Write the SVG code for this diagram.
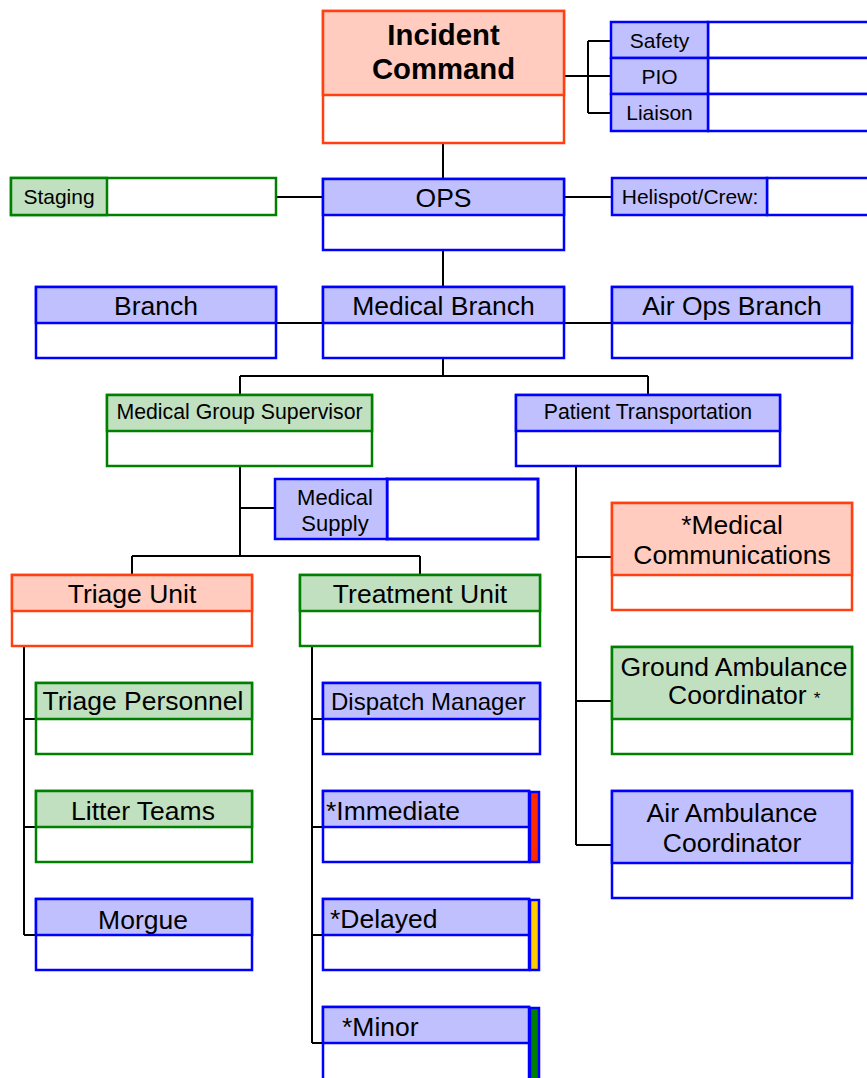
<svg xmlns="http://www.w3.org/2000/svg" width="867" height="1078" viewBox="0 0 867 1078">
<style>
text{font-family:"Liberation Sans",Arial,sans-serif;fill:#000}
.c{text-anchor:middle}
.b{font-weight:bold}
.rh{fill:#FFCCBF;stroke:#FF4010;stroke-width:2.5}
.rw{fill:#fff;stroke:#FF4010;stroke-width:2.5}
.bh{fill:#C0C0FF;stroke:#0000FF;stroke-width:2.5}
.bw{fill:#fff;stroke:#0000FF;stroke-width:2.5}
.gh{fill:#C0E0C0;stroke:#008000;stroke-width:2.5}
.gw{fill:#fff;stroke:#008000;stroke-width:2.5}
.f26{font-size:26.5px}
.f24{font-size:24px}
.f21{font-size:21px}
#connectors path{fill:none;stroke:#000;stroke-width:2}
</style>
<rect width="867" height="1078" fill="#fff"/>
<g id="connectors">
<path d="M564,76H588M588,41V113M588,41H611M588,76H611M588,113H611"/>
<path d="M443,143V179"/>
<path d="M276,197H323M564,197H612"/>
<path d="M443,250V287"/>
<path d="M276,323H323M564,323H612"/>
<path d="M443,358V376M240,376H648M240,376V395M648,376V395"/>
<path d="M240,466V556M240,508H275M132,556H420M132,556V575M420,556V575"/>
<path d="M24,646V935M24,719H36M24,827H36M24,935H36"/>
<path d="M312,646V1043M312,719H323M312,827H323M312,935H323M312,1043H323"/>
<path d="M576,466V845M576,557H612M576,701H612M576,845H612"/>
</g>
<g id="incident-command">
<rect class="rw" x="323" y="11" width="241" height="132"/>
<rect class="rh" x="323" y="11" width="241" height="84"/>
<text class="c b" x="443.5" y="45" font-size="29.3">Incident</text>
<text class="c b" x="443.5" y="79" font-size="29.3">Command</text>
</g>
<g id="safety">
<rect class="bw" x="708" y="22" width="170" height="36"/>
<rect class="bh" x="611" y="22" width="97" height="36"/>
<text class="c f21" x="659.5" y="48">Safety</text>
</g>
<g id="pio">
<rect class="bw" x="708" y="58" width="170" height="36"/>
<rect class="bh" x="611" y="58" width="97" height="36"/>
<text class="c f21" x="659.5" y="84">PIO</text>
</g>
<g id="liaison">
<rect class="bw" x="708" y="94" width="170" height="37"/>
<rect class="bh" x="611" y="94" width="97" height="37"/>
<text class="c f21" x="659.5" y="120">Liaison</text>
</g>
<g id="staging">
<rect class="gw" x="11" y="178" width="265" height="37"/>
<rect class="gh" x="11" y="178" width="96" height="37"/>
<text class="c f21" x="59" y="204">Staging</text>
</g>
<g id="ops">
<rect class="bw" x="323" y="179" width="241" height="71"/>
<rect class="bh" x="323" y="179" width="241" height="36"/>
<text class="c f26" x="443.5" y="207">OPS</text>
</g>
<g id="helispot">
<rect class="bw" x="767" y="178" width="110" height="37"/>
<rect class="bh" x="612" y="178" width="155" height="37"/>
<text class="c f21" x="690" y="204">Helispot/Crew:</text>
</g>
<g id="branch">
<rect class="bw" x="36" y="287" width="240" height="71"/>
<rect class="bh" x="36" y="287" width="240" height="36"/>
<text class="c f26" x="156" y="315">Branch</text>
</g>
<g id="medical-branch">
<rect class="bw" x="323" y="287" width="241" height="71"/>
<rect class="bh" x="323" y="287" width="241" height="36"/>
<text class="c f26" x="443.5" y="315">Medical Branch</text>
</g>
<g id="air-ops-branch">
<rect class="bw" x="612" y="287" width="240" height="71"/>
<rect class="bh" x="612" y="287" width="240" height="36"/>
<text class="c f26" x="732" y="315">Air Ops Branch</text>
</g>
<g id="medical-group-supervisor">
<rect class="gw" x="107" y="395" width="265" height="71"/>
<rect class="gh" x="107" y="395" width="265" height="36"/>
<text class="c" x="239.5" y="419" font-size="21.3">Medical Group Supervisor</text>
</g>
<g id="patient-transportation">
<rect class="bw" x="516" y="395" width="264" height="71"/>
<rect class="bh" x="516" y="395" width="264" height="36"/>
<text class="c" x="648" y="419" font-size="21.3">Patient Transportation</text>
</g>
<g id="medical-supply">
<rect x="387" y="479" width="151" height="60" fill="#fff" stroke="#0000FF" stroke-width="3"/>
<rect class="bh" x="275" y="479" width="112" height="60"/>
<text class="c" x="335" y="505" font-size="22">Medical</text>
<text class="c" x="335" y="531" font-size="22">Supply</text>
</g>
<g id="triage-unit">
<rect class="rw" x="12" y="575" width="240" height="71"/>
<rect class="rh" x="12" y="575" width="240" height="36"/>
<text class="c f26" x="132" y="603">Triage Unit</text>
</g>
<g id="treatment-unit">
<rect class="gw" x="300" y="575" width="240" height="71"/>
<rect class="gh" x="300" y="575" width="240" height="36"/>
<text class="c f26" x="420" y="603">Treatment Unit</text>
</g>
<g id="triage-personnel">
<rect class="gw" x="36" y="683" width="216" height="71"/>
<rect class="gh" x="36" y="683" width="216" height="36"/>
<text class="c f26" x="143" y="710">Triage Personnel</text>
</g>
<g id="litter-teams">
<rect class="gw" x="36" y="791" width="216" height="71"/>
<rect class="gh" x="36" y="791" width="216" height="36"/>
<text class="c f26" x="143" y="820">Litter Teams</text>
</g>
<g id="morgue">
<rect class="bw" x="36" y="899" width="216" height="71"/>
<rect class="bh" x="36" y="899" width="216" height="36"/>
<text class="c f26" x="143" y="929">Morgue</text>
</g>
<g id="dispatch-manager">
<rect class="bw" x="323" y="683" width="217" height="71"/>
<rect class="bh" x="323" y="683" width="217" height="36"/>
<text class="f24" x="331" y="710">Dispatch Manager</text>
</g>
<g id="immediate">
<rect class="bw" x="323" y="791" width="206" height="71"/>
<rect class="bh" x="323" y="791" width="206" height="36"/>
<rect x="530" y="792" width="9" height="70" fill="#FF2A00" stroke="#0000FF" stroke-width="2.5"/>
<text class="f26" x="326" y="820">*Immediate</text>
</g>
<g id="delayed">
<rect class="bw" x="323" y="899" width="206" height="71"/>
<rect class="bh" x="323" y="899" width="206" height="36"/>
<rect x="530" y="900" width="9" height="70" fill="#FFCC00" stroke="#0000FF" stroke-width="2.5"/>
<text class="f26" x="330" y="928">*Delayed</text>
</g>
<g id="minor">
<rect class="bw" x="323" y="1007" width="206" height="80"/>
<rect class="bh" x="323" y="1007" width="206" height="36"/>
<rect x="530" y="1008" width="9" height="80" fill="#008000" stroke="#0000FF" stroke-width="2.5"/>
<text class="f26" x="342" y="1036">*Minor</text>
</g>
<g id="medical-communications">
<rect class="rw" x="612" y="503" width="240" height="107"/>
<rect class="rh" x="612" y="503" width="240" height="72"/>
<text class="c f26" x="732" y="534">*Medical</text>
<text class="c f26" x="732" y="564">Communications</text>
</g>
<g id="ground-ambulance-coordinator">
<rect class="gw" x="612" y="647" width="240" height="107"/>
<rect class="gh" x="612" y="647" width="240" height="72"/>
<text class="c f26" x="734" y="676">Ground Ambulance</text>
<text class="f26" x="668" y="704">Coordinator <tspan font-size="17">*</tspan></text>
</g>
<g id="air-ambulance-coordinator">
<rect class="bw" x="612" y="791" width="240" height="107"/>
<rect class="bh" x="612" y="791" width="240" height="72"/>
<text class="c f26" x="732" y="822">Air Ambulance</text>
<text class="c f26" x="732" y="852">Coordinator</text>
</g>
</svg>
